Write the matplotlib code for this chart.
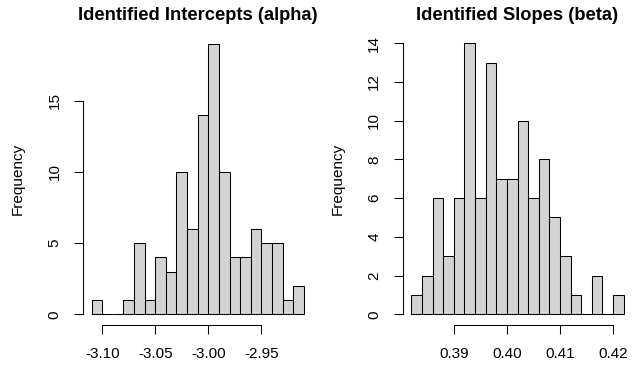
import numpy as np
import matplotlib
matplotlib.use("Agg")
import matplotlib.pyplot as plt

plt.rcParams['font.family'] = ['Liberation Sans', 'DejaVu Sans']
plt.rcParams['axes.unicode_minus'] = False

# ---- data ----
alpha_title = "Identified Intercepts (alpha)"
alpha_bin_start = -3.11
alpha_bin_width = 0.01
alpha_counts = [1, 0, 0, 1, 5, 1, 4, 3, 10, 6, 14, 19, 10, 4, 4, 6, 5, 5, 1, 2]
alpha_xticks = [-3.10, -3.05, -3.00, -2.95]
alpha_xticklabels = ["-3.10", "-3.05", "-3.00", "-2.95"]
alpha_yticks = [0, 5, 10, 15]

beta_title = "Identified Slopes (beta)"
beta_bin_start = 0.382
beta_bin_width = 0.002
beta_counts = [1, 2, 6, 3, 6, 14, 6, 13, 7, 7, 10, 6, 8, 5, 3, 1, 0, 2, 0, 1]
beta_xticks = [0.39, 0.40, 0.41, 0.42]
beta_xticklabels = ["0.39", "0.40", "0.41", "0.42"]
beta_yticks = [0, 2, 4, 6, 8, 10, 12, 14]

W, H = 636, 367
fig = plt.figure(figsize=(W / 100, H / 100), dpi=100)

def panel(rect_px, title, start, width, counts, xticks, xlabels, yticks):
    l, r, t, b = rect_px
    ax = fig.add_axes([l / W, 1 - b / H, (r - l) / W, (b - t) / H])
    n = len(counts)
    edges = start + width * np.arange(n + 1)
    ax.bar(edges[:-1], counts, width=width, align='edge',
           color='#D3D3D3', edgecolor='black', linewidth=0.75)
    rng = edges[-1] - edges[0]
    ax.set_xlim(edges[0] - 0.04 * rng, edges[-1] + 0.04 * rng)
    m = max(counts)
    ax.set_ylim(-0.04 * m, 1.04 * m)
    for s in ['top', 'right']:
        ax.spines[s].set_visible(False)
    ax.spines['left'].set_bounds(yticks[0], yticks[-1])
    ax.spines['bottom'].set_bounds(xticks[0], xticks[-1])
    for s in ['left', 'bottom']:
        ax.spines[s].set_linewidth(0.75)
    ax.set_xticks(xticks)
    ax.set_xticklabels(xlabels)
    ax.set_yticks(yticks)
    ax.set_yticklabels([str(v) for v in yticks], rotation=90, va='center')
    ax.tick_params(direction='out', length=6.5, width=0.75, labelsize=11,
                   colors='black')
    ax.tick_params(axis='x', pad=9)
    ax.tick_params(axis='y', pad=9)
    ax.set_ylabel("Frequency", fontsize=11)
    ax.yaxis.set_label_coords(-58 / (r - l), 0.5)
    ax.patch.set_visible(False)
    cx = (l + r) / 2 / W
    fig.text(cx, 1 - 20.5 / H, title, ha='center', va='baseline',
             fontsize=13.2, fontweight='bold')
    return ax

panel((83.2, 312.2, 32.9, 325.1), alpha_title, alpha_bin_start, alpha_bin_width,
      alpha_counts, alpha_xticks, alpha_xticklabels, alpha_yticks)
panel((402.8, 632.2, 32.4, 325.1), beta_title, beta_bin_start, beta_bin_width,
      beta_counts, beta_xticks, beta_xticklabels, beta_yticks)

fig.savefig("out.png", dpi=100)
